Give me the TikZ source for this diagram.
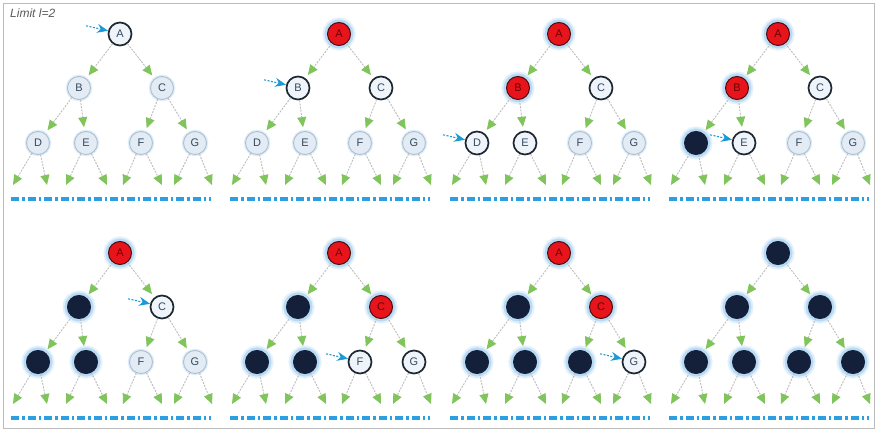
\documentclass[tikz,border=0pt]{standalone}
\usepackage{fontspec}
\setmainfont{Liberation Sans}
\usetikzlibrary{arrows.meta,calc}
\definecolor{nodefill}{HTML}{E3ECF5}
\definecolor{lightborder}{HTML}{AEBFD0}
\definecolor{darkborder}{HTML}{1E2832}
\definecolor{labelc}{HTML}{34495E}
\definecolor{redfill}{HTML}{E8141C}
\definecolor{redborder}{HTML}{4A0D0D}
\definecolor{redtext}{HTML}{6B0000}
\definecolor{navy}{HTML}{14203A}
\definecolor{glowc}{HTML}{8FC6F0}
\definecolor{edgegrey}{HTML}{BDBDBD}
\definecolor{arrowgreen}{HTML}{80C45C}
\definecolor{bluebar}{HTML}{2B9FE0}
\definecolor{pointerc}{HTML}{1C9AD6}
\definecolor{framec}{HTML}{BBBBBB}
\definecolor{titlec}{HTML}{5A5A5A}
\tikzset{
 tnode/.style={circle, minimum size=23pt, inner sep=0pt, font=\fontsize{11}{11}\selectfont},
 glow/.style={preaction={draw=glowc, line width=10pt, opacity=0.25}, preaction={draw=glowc, line width=6pt, opacity=0.5}},
 ln/.style={tnode, fill=nodefill, draw=lightborder, line width=0.9pt, text=labelc, preaction={draw=glowc, line width=3.5pt, opacity=0.3}},
 fn/.style={tnode, fill=nodefill!60!white, draw=darkborder, line width=1.7pt, text=labelc},
 rn/.style={tnode, fill=redfill, draw=redborder, line width=1pt, text=redtext, glow},
 bn/.style={tnode, fill=navy, draw=navy, line width=1pt, glow},
 edge/.style={draw=edgegrey, line width=0.9pt, dash pattern=on 2pt off 1.2pt, -{Triangle[length=10pt,width=9pt,color=arrowgreen]}},
 bar/.style={draw=bluebar, line width=3.4pt, dash pattern=on 8pt off 3pt on 2.5pt off 3pt},
 pointer/.style={draw=pointerc, line width=1.1pt, dash pattern=on 2pt off 1.5pt, -{Stealth[length=11pt,width=9pt,color=pointerc]}},
 frame/.style={draw=framec, line width=1pt},
 title/.style={anchor=base west, font=\itshape\fontsize{12}{12}\selectfont, text=titlec, inner sep=0pt}
}
\newcommand\treepanel[5]{%
 \begin{scope}[shift={(#2,#3)}]
  \coordinate (#1pA) at (120,34);
  \coordinate (#1pB) at (79,88);
  \coordinate (#1pC) at (162,88);
  \coordinate (#1pD) at (38,143);
  \coordinate (#1pE) at (86,143);
  \coordinate (#1pF) at (141,143);
  \coordinate (#1pG) at (195,143);
  \coordinate (#1D1) at (13,185);
  \coordinate (#1D2) at (47,185);
  \coordinate (#1E1) at (66,185);
  \coordinate (#1E2) at (107,185);
  \coordinate (#1F1) at (123,185);
  \coordinate (#1F2) at (162,185);
  \coordinate (#1G1) at (174,185);
  \coordinate (#1G2) at (212,185);
  \coordinate (#1L) at (11,199);
  \coordinate (#1R) at (211,199);
  \foreach \n/\l/\s in {#4} { \node[\s] (#1\n) at (#1p\n) {\l}; }
  \foreach \p/\c in {A/B,A/C,B/D,B/E,C/F,C/G} { \draw[edge, shorten >=4pt] (#1\p) -- (#1\c); }
  \foreach \p in {D,E,F,G} { \draw[edge] (#1\p) -- (#1\p1); \draw[edge] (#1\p) -- (#1\p2); }
  \draw[bar] (#1L) -- (#1R);
  \def\tmpptr{#5}%
  \ifx\tmpptr\empty\else
   \coordinate (#1ps) at ([xshift=-22pt,yshift=5pt]#1#5.165);
   \draw[pointer] (#1ps) -- (#1#5.165);
  \fi
 \end{scope}}
\begin{document}
\begin{tikzpicture}[x=1pt,y=-1pt]
\useasboundingbox (0,0) rectangle (877,430);
\fill[white] (0,0) rectangle (877,430);
\draw[frame] (3,4) rectangle (874,428);
\node[title] (limit) at (10,18) {Limit l=2};
\treepanel{a}{0}{0}{A/A/fn,B/B/ln,C/C/ln,D/D/ln,E/E/ln,F/F/ln,G/G/ln}{A}
\treepanel{b}{219}{0}{A/A/rn,B/B/fn,C/C/fn,D/D/ln,E/E/ln,F/F/ln,G/G/ln}{B}
\treepanel{c}{439}{0}{A/A/rn,B/B/rn,C/C/fn,D/D/fn,E/E/fn,F/F/ln,G/G/ln}{D}
\treepanel{d}{658}{0}{A/A/rn,B/B/rn,C/C/fn,D//bn,E/E/fn,F/F/ln,G/G/ln}{E}
\treepanel{e}{0}{219}{A/A/rn,B//bn,C/C/fn,D//bn,E//bn,F/F/ln,G/G/ln}{C}
\treepanel{f}{219}{219}{A/A/rn,B//bn,C/C/rn,D//bn,E//bn,F/F/fn,G/G/fn}{F}
\treepanel{g}{439}{219}{A/A/rn,B//bn,C/C/rn,D//bn,E//bn,F//bn,G/G/fn}{G}
\treepanel{h}{658}{219}{A//bn,B//bn,C//bn,D//bn,E//bn,F//bn,G//bn}{}
\end{tikzpicture}
\end{document}
